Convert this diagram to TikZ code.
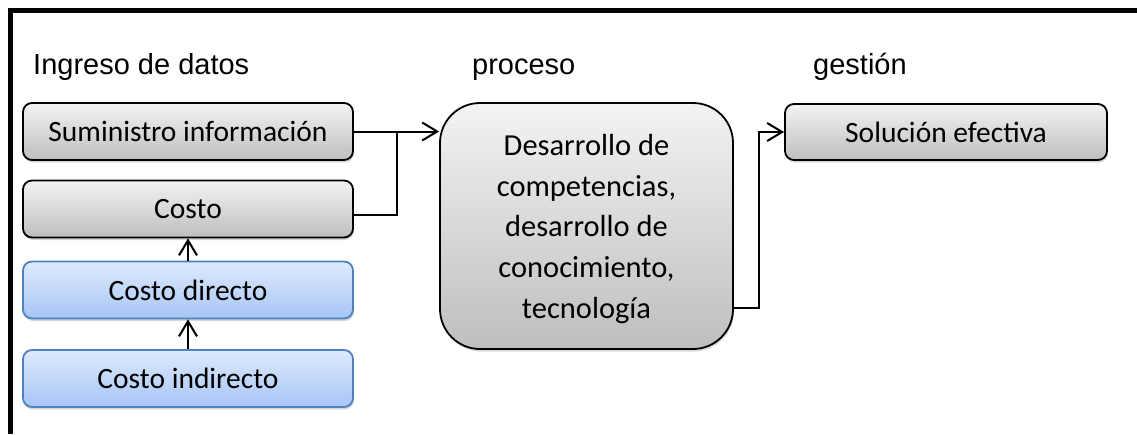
\documentclass[tikz,border=0pt]{standalone}
\usepackage{fontspec}
\setmainfont{Liberation Sans}
\newfontfamily\boxfont{Carlito}
\usetikzlibrary{arrows.meta,shadows}
\definecolor{gtop}{HTML}{F3F3F3}
\definecolor{gbot}{HTML}{BEBEBE}
\definecolor{btop}{HTML}{DEEAFD}
\definecolor{bbot}{HTML}{A7C5F6}
\definecolor{bedge}{HTML}{4F81BD}
\tikzset{
  graybox/.style={draw=black, line width=1.8pt, rounded corners=9pt,
    top color=gtop, bottom color=gbot, minimum width=330pt, minimum height=57pt,
    inner sep=0pt, font=\boxfont\fontsize{29.5}{41}\selectfont,
    drop shadow={shadow xshift=1pt, shadow yshift=-2.5pt, opacity=0.3}},
  bluebox/.style={graybox, draw=bedge, top color=btop, bottom color=bbot},
  conn/.style={draw=black, line width=2pt},
  arr/.style={conn, -{Straight Barb[length=15pt,width=18pt,line width=2pt]}},
  heading/.style={anchor=base west, inner sep=0pt, font=\fontsize{29}{34}\selectfont},
  bigtext/.style={align=center, inner sep=0pt, font=\boxfont\fontsize{30.5}{40.8}\selectfont}
}
\begin{document}
\begin{tikzpicture}[x=1pt,y=-1pt]
\fill[white] (0,0) rectangle (1137,434);
\useasboundingbox (0,0) rectangle (1137,434);
% frame (only top and left visible)
\draw[line width=5pt] (10.8,434) -- (10.8,10.8) -- (1137,10.8);

\node[heading] (h1) at (33,74) {Ingreso de datos};
\node[heading] (h2) at (472,74) {proceso};
\node[heading] (h3) at (813,74) {gestión};

\node[graybox] (sum) at (188,131.5) {Suministro información};
\node[graybox] (costo) at (188,209) {Costo};
\node[bluebox] (cdir) at (188,290) {Costo directo};
\node[bluebox] (cind) at (188,378.5) {Costo indirecto};

\node[graybox, minimum width=293pt, minimum height=246pt, rounded corners=40pt] (big) at (586.5,226) {};
\node[bigtext] (bigtxt) at ([yshift=-3pt]big.center)
  {Desarrollo de\\competencias,\\desarrollo de\\conocimiento,\\tecnología};

\node[graybox, minimum width=322pt, minimum height=56pt] (sol) at (946,132) {Solución efectiva};

\coordinate (jn) at (397,131.5);
\coordinate (kb) at (759,132);

\draw[arr] (sum.east) -- (sum.east -| big.west);
\draw[conn] ([yshift=-6pt]costo.east) -| (jn);
\draw[arr] (cdir.north) -- (costo.south);
\draw[arr] (cind.north) -- (cdir.south);
\draw[arr] ([yshift=-82pt]big.east) -| (kb) -- (sol.west);
\end{tikzpicture}
\end{document}
